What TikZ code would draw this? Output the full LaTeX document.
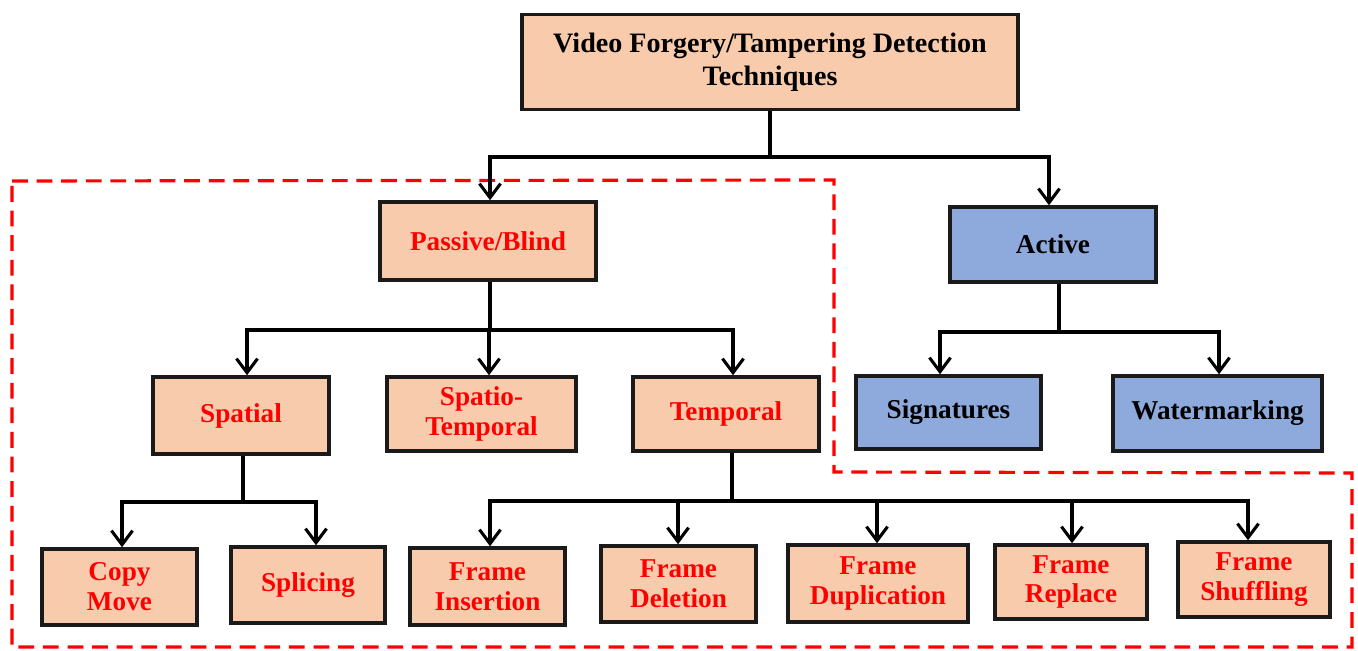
\documentclass[tikz,border=0pt]{standalone}
\usepackage{fontspec}
\setmainfont{Liberation Serif}
\usetikzlibrary{arrows.meta}
\definecolor{peach}{HTML}{F8CBAD}
\definecolor{lblue}{HTML}{8EA9DB}
\definecolor{redtxt}{HTML}{FF0000}
\definecolor{frame}{HTML}{1A1A1A}
\begin{document}
\begin{tikzpicture}[x=0.02cm,y=-0.02cm,
  box/.style={draw=frame, line width=2pt, rectangle, inner sep=2pt, align=center,
    font=\fontsize{15.5}{17}\selectfont\bfseries},
  pbox/.style={box, fill=peach, text=redtxt},
  abox/.style={box, fill=lblue, text=black},
  conn/.style={draw=black, line width=1.75pt, line join=miter},
  arr/.style={conn, -{Straight Barb[length=8pt,width=12pt,line width=1.75pt]}},
  region/.style={draw=redtxt, line width=1.8pt, dash pattern=on 9pt off 5pt}
]
\useasboundingbox (0,0) rectangle (1358,651);

% dashed region
\draw[region] (12,181) -- (834,180) -- (834,472) -- (1352,473) -- (1352,647) -- (12,647) -- cycle;

% nodes
\node[box, fill=peach, text=black, minimum width=9.92cm, minimum height=1.90cm,
  font=\fontsize{16}{19}\selectfont\bfseries] (top) at (770,62)
  {Video Forgery/Tampering Detection\\Techniques};
\node[pbox, minimum width=4.32cm, minimum height=1.56cm] (passive) at (488,241) {Passive/Blind};
\node[abox, minimum width=4.12cm, minimum height=1.50cm] (active) at (1053,244.5) {Active};
\node[abox, minimum width=3.70cm, minimum height=1.46cm] (sig) at (948.5,412.5) {Signatures};
\node[abox, minimum width=4.18cm, minimum height=1.50cm] (wm) at (1217.5,413.5) {Watermarking};
\node[pbox, minimum width=3.52cm, minimum height=1.54cm] (spatial) at (241,415.5) {Spatial};
\node[pbox, minimum width=3.78cm, minimum height=1.48cm] (st) at (481.5,414) {Spatio-\\Temporal};
\node[pbox, minimum width=3.72cm, minimum height=1.48cm] (temporal) at (726,414) {Temporal};
\node[pbox, minimum width=3.10cm, minimum height=1.52cm] (copy) at (119.5,587) {Copy\\Move};
\node[pbox, minimum width=3.08cm, minimum height=1.52cm] (splice) at (308,585) {Splicing};
\node[pbox, minimum width=3.10cm, minimum height=1.54cm] (ins) at (487.5,586.5) {Frame\\Insertion};
\node[pbox, minimum width=3.10cm, minimum height=1.52cm] (del) at (678.5,584) {Frame\\Deletion};
\node[pbox, minimum width=3.60cm, minimum height=1.54cm] (dup) at (878,583.5) {Frame\\Duplication};
\node[pbox, minimum width=3.04cm, minimum height=1.48cm] (rep) at (1071,582) {Frame\\Replace};
\node[pbox, minimum width=3.04cm, minimum height=1.50cm] (shuf) at (1254,579.5) {Frame\\Shuffling};

% bus coordinates
\coordinate (b0) at (770,157);
\coordinate (b0L) at (490,157);
\coordinate (b0R) at (1049,157);
\coordinate (bA) at (1059,332);
\coordinate (bAL) at (940,332);
\coordinate (bAR) at (1219,332);
\coordinate (bP) at (490,330);
\coordinate (bPL) at (247,330);
\coordinate (bPM) at (489,330);
\coordinate (bPR) at (733,330);
\coordinate (bS) at (243,502);
\coordinate (bSL) at (122,502);
\coordinate (bSR) at (316,502);
\coordinate (bT) at (732,501);
\coordinate (bT1) at (490,501);
\coordinate (bT2) at (678,501);
\coordinate (bT3) at (877,501);
\coordinate (bT4) at (1072,501);
\coordinate (bT5) at (1248,501);

% top level
\draw[arr] (top.south) -- (b0) -- (b0L) -- (b0L |- passive.north);
\draw[arr] (b0) -- (b0R) -- (b0R |- active.north);

% active
\draw[conn] (active.south -| bA) -- (bA);
\draw[arr] (bA) -- (bAL) -- (bAL |- sig.north);
\draw[arr] (bA) -- (bAR) -- (bAR |- wm.north);

% passive
\draw[conn] (passive.south -| bP) -- (bP);
\draw[arr] (bPM) -- (bPL) -- (bPL |- spatial.north);
\draw[arr] (bPM) -- (bPM |- st.north);
\draw[arr] (bPM) -- (bPR) -- (bPR |- temporal.north);

% spatial
\draw[conn] (spatial.south -| bS) -- (bS);
\draw[arr] (bS) -- (bSL) -- (bSL |- copy.north);
\draw[arr] (bS) -- (bSR) -- (bSR |- splice.north);

% temporal
\draw[conn] (temporal.south -| bT) -- (bT);
\draw[arr] (bT) -- (bT1) -- (bT1 |- ins.north);
\draw[arr] (bT2) -- (bT2 |- del.north);
\draw[arr] (bT3) -- (bT3 |- dup.north);
\draw[arr] (bT4) -- (bT4 |- rep.north);
\draw[arr] (bT) -- (bT5) -- (bT5 |- shuf.north);
\end{tikzpicture}
\end{document}
